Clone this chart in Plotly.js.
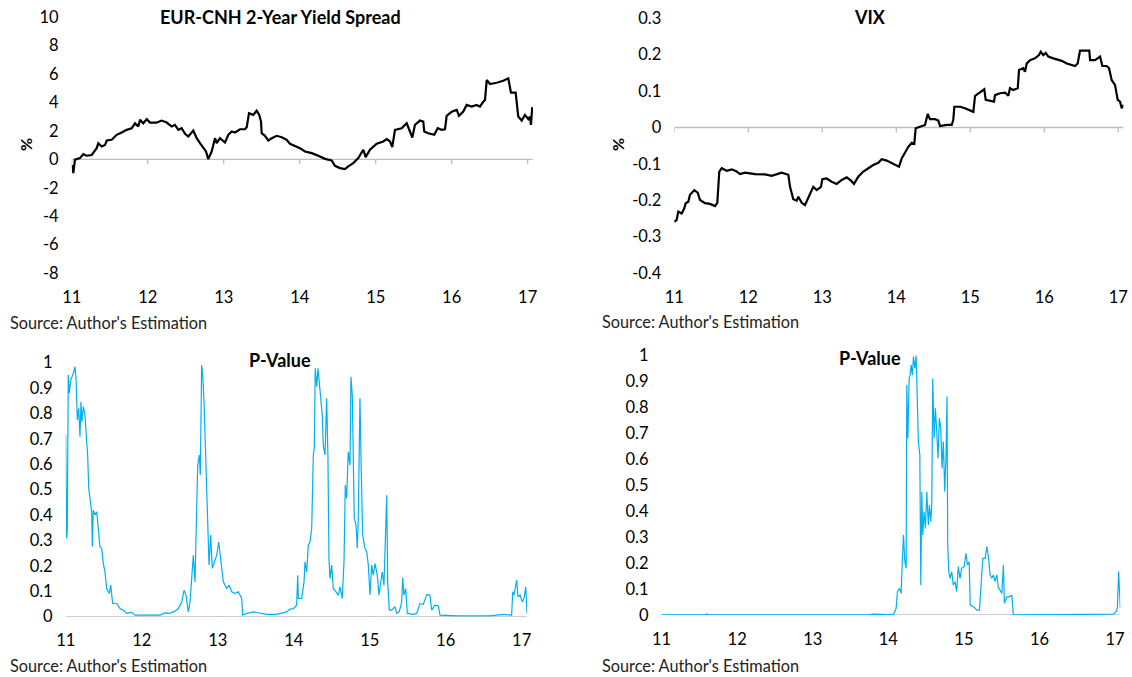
<!DOCTYPE html>
<html><head><meta charset="utf-8">
<script src="https://cdn.plot.ly/plotly-3.0.1.min.js"></script>
<style>html,body{margin:0;padding:0;background:#fff}#chart{width:1132px;height:677px}</style>
</head><body><div id="chart"></div><script>
// ---------- data ----------
const yearTicks = [11, 12, 13, 14, 15, 16, 17];
const yearLabels = ['11', '12', '13', '14', '15', '16', '17'];

const spreadTicks = [10, 8, 6, 4, 2, 0, -2, -4, -6, -8];
const vixTicks = [0.3, 0.2, 0.1, 0, -0.1, -0.2, -0.3, -0.4];
const vixLabels = ['0.3', '0.2', '0.1', '0', '-0.1', '-0.2', '-0.3', '-0.4'];
const pTicks = [0, 0.1, 0.2, 0.3, 0.4, 0.5, 0.6, 0.7, 0.8, 0.9, 1];
const pLabels = ['0', '0.1', '0.2', '0.3', '0.4', '0.5', '0.6', '0.7', '0.8', '0.9', '1'];

const spreadX = [11.008,11.021,11.043,11.109,11.153,11.197,11.263,11.329,11.350,11.395,11.438,11.461,11.526,11.592,11.658,11.724,11.789,11.833,11.876,11.899,11.942,11.987,12.030,12.118,12.184,12.250,12.316,12.359,12.403,12.447,12.491,12.534,12.600,12.645,12.688,12.732,12.767,12.797,12.842,12.886,12.908,12.951,13.017,13.061,13.105,13.149,13.214,13.280,13.303,13.333,13.389,13.434,13.468,13.491,13.500,13.543,13.587,13.632,13.697,13.763,13.829,13.872,13.938,14.004,14.070,14.158,14.245,14.333,14.421,14.464,14.530,14.596,14.639,14.705,14.771,14.816,14.837,14.868,14.925,15.013,15.100,15.145,15.189,15.218,15.254,15.342,15.408,15.451,15.482,15.517,15.583,15.626,15.639,15.692,15.771,15.816,15.868,15.912,15.934,16.000,16.066,16.096,16.153,16.197,16.263,16.329,16.372,16.416,16.438,16.461,16.504,16.592,16.679,16.745,16.780,16.842,16.876,16.921,16.964,17.008,17.030,17.043,17.060];
const spreadY = [-0.39,-0.97,-0.03,0.08,0.36,0.25,0.30,0.78,1.13,0.90,1.00,1.32,1.37,1.72,1.88,2.07,2.18,2.53,2.30,2.77,2.53,2.82,2.58,2.58,2.72,2.58,2.30,2.42,2.07,2.18,1.79,1.60,2.02,1.48,1.13,0.78,0.55,0.01,0.55,1.48,1.13,1.48,1.18,1.72,1.95,1.88,2.11,2.11,2.25,3.24,3.12,3.42,3.12,2.65,1.83,1.65,1.32,1.48,1.65,1.55,1.37,1.09,0.95,0.78,0.55,0.43,0.25,0.03,-0.08,-0.46,-0.62,-0.69,-0.50,-0.27,0.08,0.43,0.67,0.15,0.67,1.09,1.25,1.42,1.25,0.85,2.07,2.18,2.53,1.95,1.53,2.42,2.72,2.65,1.95,1.83,1.72,2.18,2.07,2.11,3.05,3.35,3.47,3.05,3.35,3.82,3.70,3.82,3.70,4.05,4.17,5.57,5.29,5.38,5.52,5.69,4.68,4.68,3.00,2.72,3.12,2.82,3.00,2.42,3.66];

const vixX = [11.000,11.032,11.054,11.100,11.135,11.154,11.189,11.212,11.270,11.316,11.347,11.415,11.482,11.550,11.581,11.608,11.641,11.708,11.776,11.843,11.888,11.955,12.091,12.226,12.316,12.405,12.451,12.541,12.564,12.608,12.654,12.676,12.722,12.766,12.803,12.847,12.878,12.924,12.982,13.000,13.059,13.127,13.195,13.262,13.330,13.388,13.428,13.486,13.554,13.622,13.689,13.757,13.803,13.870,13.938,13.982,14.036,14.073,14.117,14.162,14.208,14.243,14.262,14.320,14.388,14.424,14.455,14.523,14.568,14.591,14.681,14.749,14.770,14.784,14.861,14.928,14.996,15.041,15.064,15.132,15.189,15.208,15.266,15.320,15.334,15.401,15.469,15.514,15.536,15.581,15.641,15.658,15.716,15.739,15.762,15.807,15.874,15.928,15.951,15.986,16.019,16.054,16.122,16.189,16.235,16.303,16.370,16.415,16.451,16.482,16.550,16.608,16.618,16.685,16.753,16.784,16.843,16.874,16.911,16.955,16.992,17.023,17.046,17.068];
const vixY = [-0.259,-0.254,-0.231,-0.236,-0.222,-0.208,-0.204,-0.185,-0.172,-0.179,-0.199,-0.208,-0.210,-0.216,-0.207,-0.121,-0.112,-0.119,-0.115,-0.121,-0.128,-0.124,-0.128,-0.129,-0.133,-0.128,-0.124,-0.130,-0.163,-0.197,-0.201,-0.190,-0.207,-0.213,-0.195,-0.176,-0.163,-0.172,-0.163,-0.142,-0.140,-0.149,-0.155,-0.144,-0.137,-0.146,-0.155,-0.135,-0.121,-0.112,-0.103,-0.097,-0.087,-0.091,-0.098,-0.103,-0.108,-0.085,-0.067,-0.053,-0.042,-0.045,-0.002,0.002,0.007,0.037,0.023,0.023,0.019,0.004,0.007,0.007,0.021,0.057,0.057,0.053,0.048,0.043,0.087,0.098,0.105,0.076,0.074,0.071,0.089,0.094,0.096,0.087,0.108,0.103,0.108,0.158,0.163,0.153,0.176,0.185,0.190,0.199,0.208,0.199,0.205,0.195,0.190,0.187,0.183,0.176,0.172,0.169,0.176,0.211,0.211,0.211,0.185,0.185,0.195,0.169,0.169,0.163,0.130,0.117,0.076,0.071,0.053,0.062];

const pLeftX = [11.000,11.003,11.013,11.021,11.034,11.047,11.066,11.100,11.122,11.136,11.153,11.171,11.188,11.201,11.214,11.232,11.254,11.276,11.289,11.303,11.320,11.342,11.350,11.363,11.386,11.408,11.429,11.451,11.474,11.495,11.517,11.539,11.574,11.592,11.618,11.671,11.714,11.758,11.803,11.868,11.912,12.066,12.241,12.307,12.372,12.438,12.482,12.526,12.557,12.583,12.613,12.636,12.658,12.679,12.701,12.714,12.737,12.758,12.771,12.789,12.803,12.820,12.833,12.846,12.863,12.886,12.908,12.929,12.951,12.987,13.013,13.039,13.074,13.118,13.153,13.184,13.228,13.271,13.293,13.316,13.329,13.382,13.468,13.557,13.645,13.776,13.908,13.951,13.995,14.039,14.053,14.061,14.105,14.136,14.149,14.171,14.192,14.214,14.237,14.258,14.271,14.284,14.303,14.320,14.337,14.355,14.376,14.389,14.412,14.434,14.451,14.464,14.478,14.500,14.521,14.557,14.587,14.609,14.639,14.662,14.679,14.697,14.718,14.741,14.754,14.771,14.784,14.797,14.820,14.837,14.850,14.872,14.889,14.908,14.938,14.961,14.982,15.004,15.026,15.047,15.070,15.100,15.122,15.145,15.166,15.188,15.211,15.224,15.237,15.258,15.289,15.333,15.355,15.389,15.421,15.434,15.451,15.474,15.495,15.574,15.618,15.662,15.705,15.750,15.793,15.816,15.859,15.903,15.925,16.145,16.583,16.758,16.868,16.882,16.899,16.916,16.934,16.951,16.978,17.008,17.034,17.053,17.062,17.070];
const pLeftY = [0.715,0.570,0.308,0.347,0.951,0.879,0.931,0.957,0.983,0.938,0.774,0.820,0.708,0.846,0.767,0.826,0.793,0.688,0.636,0.505,0.452,0.413,0.275,0.419,0.400,0.413,0.347,0.275,0.269,0.209,0.176,0.111,0.091,0.124,0.052,0.052,0.032,0.026,0.013,0.017,0.006,0.005,0.006,0.015,0.013,0.022,0.032,0.058,0.104,0.085,0.019,0.058,0.137,0.242,0.137,0.281,0.596,0.636,0.557,0.990,0.951,0.846,0.715,0.531,0.426,0.203,0.321,0.190,0.209,0.242,0.294,0.216,0.137,0.111,0.124,0.098,0.091,0.098,0.085,0.072,0.006,0.013,0.019,0.015,0.009,0.009,0.019,0.030,0.032,0.045,0.163,0.072,0.072,0.137,0.216,0.176,0.281,0.294,0.347,0.636,0.662,0.977,0.905,0.977,0.924,0.846,0.793,0.675,0.636,0.859,0.623,0.229,0.150,0.203,0.111,0.098,0.085,0.117,0.072,0.216,0.518,0.465,0.649,0.596,0.944,0.872,0.636,0.387,0.360,0.269,0.387,0.859,0.570,0.321,0.269,0.255,0.203,0.085,0.203,0.163,0.209,0.163,0.085,0.124,0.176,0.124,0.400,0.478,0.137,0.026,0.026,0.039,0.013,0.019,0.058,0.153,0.085,0.111,0.013,0.009,0.013,0.052,0.048,0.087,0.085,0.026,0.045,0.043,0.006,0.003,0.003,0.009,0.006,0.098,0.085,0.124,0.144,0.078,0.085,0.058,0.078,0.117,0.019,0.013];

const pRightX = [11.000,11.580,11.600,11.620,13.750,13.800,14.000,14.069,14.104,14.121,14.148,14.170,14.187,14.201,14.219,14.236,14.245,14.259,14.276,14.289,14.302,14.319,14.333,14.351,14.368,14.381,14.398,14.417,14.430,14.443,14.456,14.474,14.491,14.509,14.530,14.544,14.562,14.575,14.588,14.606,14.623,14.641,14.658,14.676,14.694,14.711,14.728,14.747,14.764,14.777,14.786,14.800,14.817,14.839,14.860,14.883,14.905,14.926,14.949,14.971,15.004,15.027,15.048,15.070,15.084,15.127,15.172,15.206,15.229,15.251,15.281,15.304,15.325,15.347,15.370,15.391,15.413,15.436,15.457,15.479,15.502,15.523,15.536,15.568,15.602,15.634,15.655,16.978,17.014,17.031,17.048,17.062,17.070];
const pRightY = [0.001,0.001,0.004,0.001,0.001,0.003,0.002,0.003,0.026,0.090,0.103,0.083,0.218,0.308,0.205,0.180,0.885,0.680,0.910,0.923,0.962,0.923,0.994,0.949,0.998,0.859,0.667,0.615,0.115,0.474,0.308,0.397,0.333,0.474,0.346,0.423,0.359,0.423,0.910,0.680,0.795,0.705,0.603,0.757,0.718,0.564,0.667,0.474,0.615,0.840,0.269,0.167,0.141,0.167,0.115,0.128,0.090,0.186,0.141,0.180,0.186,0.237,0.192,0.205,0.038,0.032,0.019,0.019,0.115,0.218,0.218,0.263,0.224,0.154,0.141,0.154,0.128,0.154,0.103,0.096,0.083,0.192,0.045,0.070,0.070,0.077,0.001,0.003,0.013,0.026,0.167,0.058,0.026];

// ---------- layout helpers ----------
const W = 1132, H = 677;
const px = v => v / W;
const py = v => 1 - v / H;
const FONT = 'Lato, "Open Sans", sans-serif';
const X_END = 17.07;

function xAxis(d0, d1) {
  return {
    domain: [px(d0), px(d1)], range: [11, X_END],
    tickmode: 'array', tickvals: yearTicks, ticktext: yearLabels,
    showgrid: false, zeroline: false, showline: false, ticks: '',
    ticklabelstandoff: 12,
    tickfont: {family: FONT, size: 16.5, color: '#000'}, fixedrange: true
  };
}
function yAxis(top, bottom, range, vals, labels) {
  return {
    domain: [py(bottom), py(top)], range: range,
    tickmode: 'array', tickvals: vals, ticktext: labels,
    showgrid: false, zeroline: false, showline: false, ticks: '',
    ticklabelstandoff: 12,
    tickfont: {family: FONT, size: 16.5, color: '#000'}, fixedrange: true
  };
}

const layout = {
  width: W, height: H,
  margin: {l: 0, r: 0, t: 0, b: 0},
  paper_bgcolor: '#fff', plot_bgcolor: 'rgba(0,0,0,0)',
  showlegend: false,
  font: {family: FONT, color: '#000'},
  xaxis: Object.assign(xAxis(71.7, 533), {anchor: 'y'}),
  yaxis: Object.assign(yAxis(17, 273.1, [-8, 10], spreadTicks, spreadTicks.map(String)), {anchor: 'x'}),
  xaxis2: Object.assign(xAxis(674.3, 1123.5), {anchor: 'y2'}),
  yaxis2: Object.assign(yAxis(18.3, 273.1, [-0.4, 0.3], vixTicks, vixLabels), {anchor: 'x2'}),
  xaxis3: Object.assign(xAxis(65.7, 527), {anchor: 'y3'}),
  yaxis3: Object.assign(yAxis(362.5, 616.7, [0, 1], pTicks, pLabels), {anchor: 'x3'}),
  xaxis4: Object.assign(xAxis(661.6, 1120.3), {anchor: 'y4'}),
  yaxis4: Object.assign(yAxis(355, 615, [0, 1], pTicks, pLabels), {anchor: 'x4'}),
  shapes: [],
  annotations: []
};

// zero axis lines with tick marks
['', '2', '3', '4'].forEach(s => {
  const xr = 'x' + s, yr = 'y' + s;
  layout.shapes.push({type: 'line', layer: 'below', xref: xr, yref: yr,
    x0: 11, x1: X_END, y0: 0, y1: 0, line: {color: '#bfbfbf', width: 1.3}});
  yearTicks.forEach(t => layout.shapes.push({type: 'line', layer: 'below', xref: xr, yref: yr,
    ysizemode: 'pixel', yanchor: 0, x0: t, x1: t, y0: 0, y1: -5,
    line: {color: '#bfbfbf', width: 1.3}}));
});

function ann(text, x, y, opts) {
  layout.annotations.push(Object.assign({
    text: text, xref: 'paper', yref: 'paper', x: px(x), y: py(y),
    xanchor: 'center', yanchor: 'middle', showarrow: false,
    font: {family: FONT, size: 16, color: '#000'}
  }, opts || {}));
}
const TITLE_FONT = {family: FONT, size: 18, color: '#000'};
const SRC_FONT = {family: FONT, size: 16.3, color: '#222'};
ann('<b>EUR-CNH 2-Year Yield Spread</b>', 280.5, 17, {font: TITLE_FONT});
ann('<b>VIX</b>', 870, 17, {font: TITLE_FONT});
ann('<b>P-Value</b>', 280, 360, {font: TITLE_FONT});
ann('<b>P-Value</b>', 870, 358, {font: TITLE_FONT});
ann('<b>%</b>', 25, 145, {textangle: -90});
ann('<b>%</b>', 617, 145, {textangle: -90});
ann("Source: Author's Estimation", 8, 322, {xanchor: 'left', font: SRC_FONT});
ann("Source: Author's Estimation", 600, 321, {xanchor: 'left', font: SRC_FONT});
ann("Source: Author's Estimation", 8, 665, {xanchor: 'left', font: SRC_FONT});
ann("Source: Author's Estimation", 600, 665, {xanchor: 'left', font: SRC_FONT});

const blackLine = {color: '#000', width: 2.2};
const blueLine = {color: '#00b0f0', width: 1.2};
const traces = [
  {x: spreadX, y: spreadY, xaxis: 'x', yaxis: 'y', type: 'scatter', mode: 'lines', line: blackLine, hoverinfo: 'skip'},
  {x: vixX, y: vixY, xaxis: 'x2', yaxis: 'y2', type: 'scatter', mode: 'lines', line: blackLine, hoverinfo: 'skip'},
  {x: pLeftX, y: pLeftY, xaxis: 'x3', yaxis: 'y3', type: 'scatter', mode: 'lines', line: blueLine, hoverinfo: 'skip'},
  {x: pRightX, y: pRightY, xaxis: 'x4', yaxis: 'y4', type: 'scatter', mode: 'lines', line: blueLine, hoverinfo: 'skip'}
];

Plotly.newPlot('chart', traces, layout, {displayModeBar: false, staticPlot: true});
</script></body></html>
